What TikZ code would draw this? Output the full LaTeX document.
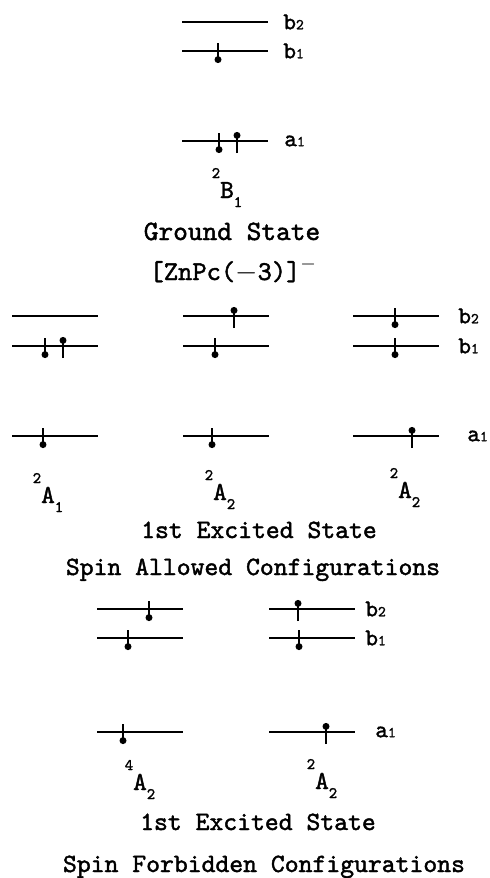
\documentclass[tikz,border=0pt]{standalone}
\usepackage{fontspec}
\setmonofont{lmmono10-regular.otf}[FakeBold=1.6]
\usetikzlibrary{arrows.meta}

\newcommand{\term}[3]{\raisebox{10pt}{\fontsize{8}{9}\selectfont#1}#2\raisebox{-4.5pt}{\fontsize{8}{9}\selectfont#3}}
\newcommand{\orb}[2]{#1{\fontsize{7.5}{8}\selectfont#2}}

\begin{document}
\begin{tikzpicture}[
    x=0.5pt, y=-0.5pt,
    every node/.style={inner sep=0pt, font=\ttfamily},
    orbital/.style={line width=0.9pt},
    spinline/.style={line width=1.2pt, -{Circle[length=3.4pt, width=3.4pt]}},
    orblabel/.style={anchor=west, font=\ttfamily\fontsize{12}{13}\selectfont},
    termlabel/.style={anchor=base, font=\ttfamily\fontsize{13}{14}\selectfont},
    caption/.style={anchor=base, font=\ttfamily\fontsize{13.2}{15}\selectfont},
    pics/spindn/.style={code={\draw[spinline] (0,-8) -- (0,12);}},
    pics/spinup/.style={code={\draw[spinline] (0,12) -- (0,-9);}}
]
    \useasboundingbox (0,0) rectangle (490,878);

    \foreach \lx/\ly in {182/22, 182/51, 182/141,
                         12/316, 12/346, 12/436, 183/316, 183/346, 183/436, 353/316, 353/346, 353/436,
                         97/609, 97/638, 97/732, 269/609, 269/638, 269/732}
        \draw[orbital] (\lx,\ly) -- ++(86,0);

    \foreach \sx/\sy in {218/51, 219/141, 45/346, 43/436, 215/346, 212/436, 395/316, 395/346,
                         149/609, 128/638, 123/732, 299/638}
        \pic at (\sx,\sy) {spindn};
    \foreach \sx/\sy in {237/141, 63/346, 234/316, 412/436, 298/609, 326/732}
        \pic at (\sx,\sy) {spinup};

    % ground state
    \node[orblabel] (gsb2) at (283,22) {\orb{b}{2}};
    \node[orblabel] (gsb1) at (283,51) {\orb{b}{1}};
    \node[orblabel] (gsa1) at (284,141) {\orb{a}{1}};
    \node[termlabel] (gsterm) at (227,198) {\term{2}{B}{1}};
    \node[caption, font=\ttfamily\fontsize{14}{15}\selectfont] (gsname) at (232,240) {Ground State};
    \node[caption, font=\ttfamily\fontsize{13.6}{15}\selectfont] (gsion) at (225,280)
        {[ZnPc($-$3)]\rlap{\raisebox{5.5pt}{$\scriptstyle-$}}};

    % spin allowed
    \node[orblabel] (sab2) at (458,316) {\orb{b}{2}};
    \node[orblabel] (sab1) at (458,346) {\orb{b}{1}};
    \node[orblabel] (saa1) at (467,436) {\orb{a}{1}};
    \node[termlabel] (saterma) at (48,503) {\term{2}{A}{1}};
    \node[termlabel] (satermb) at (220,500) {\term{2}{A}{2}};
    \node[termlabel] (satermc) at (405,498) {\term{2}{A}{2}};
    \node[caption] (saname) at (259,538) {1st Excited State};
    \node[caption] (sakind) at (253,575) {Spin Allowed Configurations};

    % spin forbidden
    \node[orblabel] (sfb2) at (365,609) {\orb{b}{2}};
    \node[orblabel] (sfb1) at (365,638) {\orb{b}{1}};
    \node[orblabel] (sfa1) at (375,732) {\orb{a}{1}};
    \node[termlabel] (sfterma) at (140,790) {\term{4}{A}{2}};
    \node[termlabel] (sftermb) at (322,789) {\term{2}{A}{2}};
    \node[caption] (sfname) at (258,830) {1st Excited State};
    \node[caption] (sfkind) at (264,872) {Spin Forbidden Configurations};

\end{tikzpicture}
\end{document}
